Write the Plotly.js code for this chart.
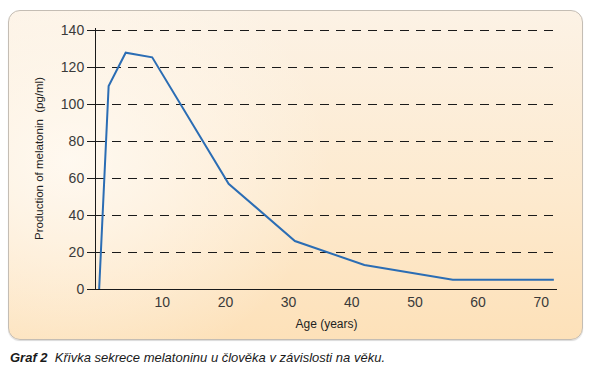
<!DOCTYPE html>
<html>
<head>
<meta charset="utf-8">
<script src="https://cdn.plot.ly/plotly-3.0.1.min.js"></script>
<style>
  html, body { margin: 0; padding: 0; background: #ffffff; width: 591px; height: 375px; overflow: hidden; }
  #panel {
    position: absolute; left: 8px; top: 10px; width: 573px; height: 328px;
    border-radius: 12px; border: 1px solid #c4bdb4;
    background: radial-gradient(ellipse 260px 220px at 60px 150px, rgba(255,250,243,0.9), rgba(255,250,243,0) 100%),
                linear-gradient(to bottom, #fcf2e5 0%, #fdeacf 55%, #fde1b9 100%);
    box-shadow: 0 1px 1px rgba(0,0,0,0.15);
  }
  #chart { position: absolute; left: 0; top: 0; width: 591px; height: 375px; }
</style>
</head>
<body>
<div id="panel"></div>
<div id="chart"></div>
<script>
// Data
const ageYears = [0, 1.5, 4.2, 8.4, 20.5, 31, 42, 56, 72];
const melatoninPgMl = [0, 110, 128, 125.5, 57, 26, 13, 5, 5];
const xTickValues = [10, 20, 30, 40, 50, 60, 70];
const yTickValues = [0, 20, 40, 60, 80, 100, 120, 140];

const fontFamily = '"Liberation Sans", Arial, Helvetica, sans-serif';

const trace = {
  x: ageYears,
  y: melatoninPgMl,
  type: 'scatter',
  mode: 'lines',
  line: { color: '#2b6db4', width: 2 },
  hoverinfo: 'skip',
  showlegend: false
};

const layout = {
  width: 591,
  height: 375,
  margin: { l: 96, r: 34, t: 28, b: 86 },
  paper_bgcolor: 'rgba(0,0,0,0)',
  plot_bgcolor: 'rgba(0,0,0,0)',
  font: { family: fontFamily, size: 14, color: '#3a3a3a' },
  xaxis: {
    range: [-0.5, 72.5],
    tickvals: xTickValues,
    ticks: '',
    showgrid: false,
    zeroline: false,
    showline: true,
    linecolor: '#1a1a1a',
    linewidth: 1,
    tickfont: { family: fontFamily, size: 14, color: '#3a3a3a' },
    title: { text: 'Age (years)', font: { family: fontFamily, size: 12, color: '#222' }, standoff: 10 },
    fixedrange: true
  },
  yaxis: {
    range: [0, 141.4],
    tickvals: yTickValues,
    ticks: 'outside',
    ticklen: 8,
    tickcolor: '#1a1a1a',
    tickwidth: 1,
    showgrid: true,
    gridcolor: '#1a1a1a',
    gridwidth: 1,
    griddash: '9px,7px',
    zeroline: false,
    showline: true,
    linecolor: '#1a1a1a',
    linewidth: 1,
    tickfont: { family: fontFamily, size: 14, color: '#3a3a3a' },
    title: { text: 'Production of melatonin  (pg/ml)', font: { family: fontFamily, size: 11.5, color: '#222' }, standoff: 14 },
    fixedrange: true
  },
  annotations: [{
    xref: 'paper', yref: 'paper',
    x: -88 / 461, y: -68 / 261,
    xanchor: 'left', yanchor: 'middle',
    showarrow: false,
    align: 'left',
    text: '<b><i>Graf 2</i></b>  <i>Křivka sekrece melatoninu u člověka v závislosti na věku.</i>',
    font: { family: fontFamily, size: 13, color: '#1a1a1a' }
  }]
};

Plotly.newPlot('chart', [trace], layout, { displayModeBar: false, staticPlot: true });
</script>
</body>
</html>
